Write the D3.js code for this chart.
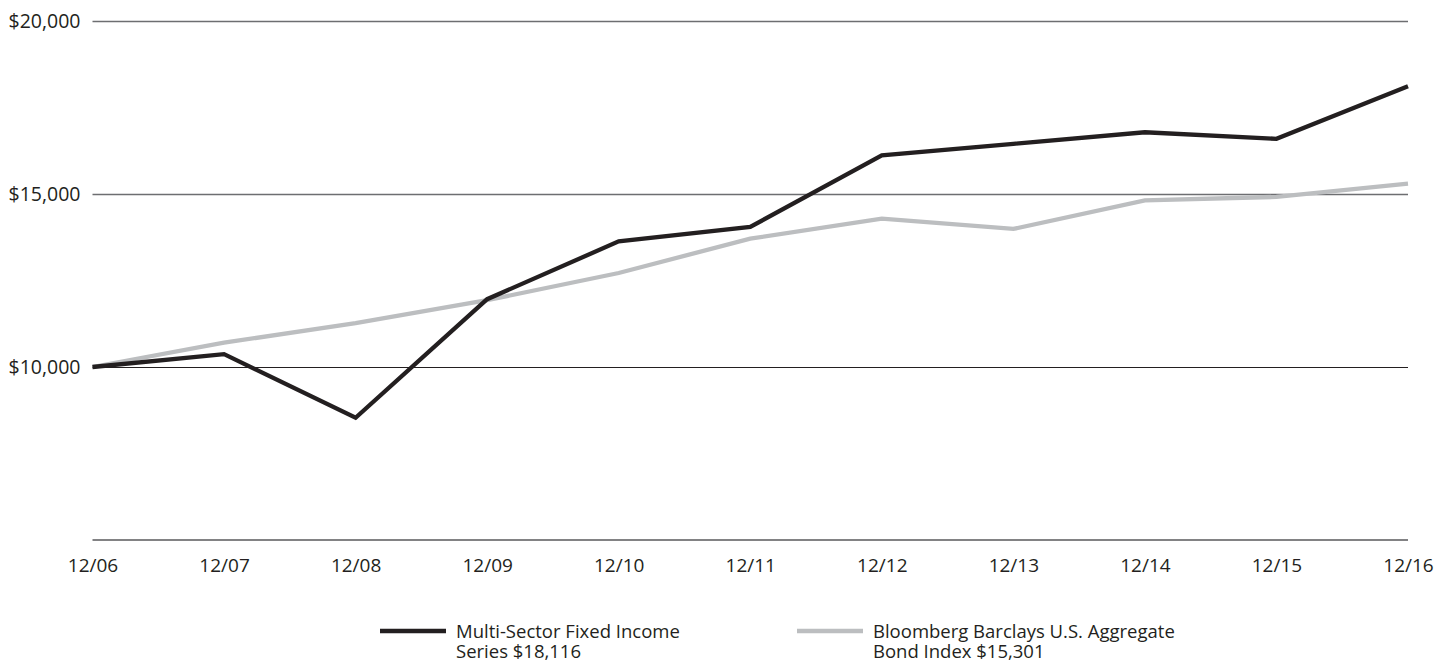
<!DOCTYPE html>
<html>
<head>
<meta charset="utf-8">
<script src="https://cdn.jsdelivr.net/npm/d3@7"></script>
<style>
  html, body { margin: 0; padding: 0; background: #fff; }
  svg { display: block; }
  text { font-family: "Open Sans", "Noto Sans", sans-serif; fill: #231f20; }
</style>
</head>
<body>
<svg id="chart" width="1446" height="664"></svg>
<script>
// Growth of a $10,000 investment, year-end values
const periods = ["12/06", "12/07", "12/08", "12/09", "12/10", "12/11", "12/12", "12/13", "12/14", "12/15", "12/16"];
const fundValues  = [10000, 10372, 8534, 11960, 13631, 14048, 16120, 16450, 16785, 16594, 18116];
const indexValues = [10000, 10702, 11270, 11930, 12717, 13709, 14288, 13990, 14818, 14916, 15301];
const yTicks = [10000, 15000, 20000];
const seriesNames = [
  ["Multi-Sector Fixed Income", "Series $18,116"],
  ["Bloomberg Barclays U.S. Aggregate", "Bond Index $15,301"]
];

const svg = d3.select("#chart");
const plot = { left: 92.5, right: 1408, top: 21, bottom: 540 };

const x = d3.scalePoint().domain(periods).range([plot.left, plot.right]);
const y = d3.scaleLinear().domain([5000, 20000]).range([plot.bottom, plot.top]);

// Horizontal gridlines with dollar labels
const yAxis = svg.append("g")
  .attr("transform", `translate(${plot.left},0)`)
  .call(d3.axisLeft(y).tickValues(yTicks).tickSize(-(plot.right - plot.left)).tickPadding(12)
    .tickFormat(d => "$" + d3.format(",")(d)));
yAxis.select(".domain").remove();
yAxis.selectAll(".tick line")
  .attr("stroke", d => d === 10000 ? "#231f20" : "#6d6e71")
  .attr("stroke-width", d => d === 10000 ? 1 : 1.4);
yAxis.selectAll(".tick text")
  .attr("font-size", 19.5).attr("fill", "#231f20")
  .style("font-family", '"Open Sans", sans-serif');

// Baseline and period labels
const xAxis = svg.append("g")
  .attr("transform", `translate(0,${plot.bottom})`)
  .call(d3.axisBottom(x).tickSize(0).tickPadding(18.5));
xAxis.select(".domain").attr("stroke", "#58595b").attr("stroke-width", 1.4)
  .attr("d", `M${plot.left},0H${plot.right}`);
xAxis.selectAll(".tick text")
  .attr("font-size", 19).attr("fill", "#231f20")
  .style("font-family", '"Open Sans", sans-serif');

const line = d3.line().x((d, i) => x(periods[i])).y(d => y(d));

svg.append("path").datum(indexValues)
  .attr("fill", "none").attr("stroke", "#bcbec0").attr("stroke-width", 4.3)
  .attr("stroke-linejoin", "miter").attr("d", line);

svg.append("path").datum(fundValues)
  .attr("fill", "none").attr("stroke", "#231f20").attr("stroke-width", 4.3)
  .attr("stroke-linejoin", "miter").attr("d", line);

// Legend: swatch plus two-line label for each series
const legendItems = [
  { color: "#231f20", x0: 380, lines: seriesNames[0] },
  { color: "#bcbec0", x0: 797, lines: seriesNames[1] }
];
const lg = svg.append("g").selectAll("g").data(legendItems).join("g");
lg.append("line")
  .attr("x1", d => d.x0).attr("x2", d => d.x0 + 66)
  .attr("y1", 631).attr("y2", 631)
  .attr("stroke", d => d.color).attr("stroke-width", 4.5);
lg.selectAll("text")
  .data(d => d.lines.map((s, i) => ({ s, i, x0: d.x0 })))
  .join("text")
  .attr("x", d => d.x0 + 76)
  .attr("y", d => 638 + d.i * 20)
  .attr("font-size", 18.5)
  .text(d => d.s);
</script>
</body>
</html>
